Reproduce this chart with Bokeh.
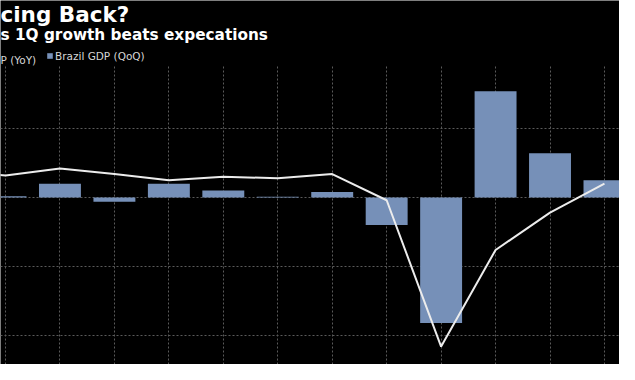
from bokeh.plotting import figure
from bokeh.models import Range1d, FixedTicker, Label, Legend, LegendItem, ColumnDataSource
from bokeh.embed import file_html
from bokeh.resources import INLINE

# ---------------- data ----------------
quarters = ["1Q 2018", "2Q 2018", "3Q 2018", "4Q 2018", "1Q 2019", "2Q 2019", "3Q 2019",
            "4Q 2019", "1Q 2020", "2Q 2020", "3Q 2020", "4Q 2020", "1Q 2021"]
gdp_yoy = [1.9, 1.6, 2.1, 1.7, 1.25, 1.5, 1.4, 1.7, -0.2, -10.8, -3.8, -1.1, 1.0]
bar_quarters = quarters[1:]
gdp_qoq = [0.1, 1.0, -0.3, 1.0, 0.5, 0.05, 0.4, -2.0, -9.1, 7.7, 3.2, 1.25]
y_ticks = [-10, -5, 0, 5]

title_text = "cing Back?"
subtitle_text = "s 1Q growth beats expecations"
yoy_label = "P (YoY)"
qoq_label = "Brazil GDP (QoQ)"

# ---------------- build ----------------
x_line = [quarters.index(q) for q in quarters]
x_bar = [quarters.index(q) for q in bar_quarters]

line_src = ColumnDataSource(dict(x=x_line, y=gdp_yoy, q=quarters))
bar_src = ColumnDataSource(dict(x=x_bar, top=gdp_qoq, q=bar_quarters))

Y_BOTTOM, Y_TOP, PLOT_TOP = -12.10, 14.275, 9.565

p = figure(width=619, height=364, output_backend="svg", toolbar_location=None,
           x_range=Range1d(0.908, 12.276), y_range=Range1d(Y_BOTTOM, Y_TOP),
           min_border=0)

p.background_fill_color = "#000000"
p.border_fill_color = "#000000"
p.outline_line_color = None
p.xaxis.visible = False
p.yaxis.visible = False

p.xgrid.ticker = FixedTicker(ticks=x_line)
p.ygrid.ticker = FixedTicker(ticks=y_ticks)
p.xgrid.cross_bounds = (Y_BOTTOM, PLOT_TOP)
for g in (p.xgrid, p.ygrid):
    g.grid_line_color = "#5a5a5a"
    g.grid_line_dash = "2 2"
    g.grid_line_width = 1

bars = p.vbar(x="x", top="top", bottom=0, width=0.77, source=bar_src,
              fill_color="#7690b8", line_color=None)
p.line(x="x", y="y", source=line_src, line_color="#ececec", line_width=2)

font = "DejaVu Sans"
p.add_layout(Label(x=0, y=350, x_units="screen", y_units="screen", text=title_text,
                   text_font=font, text_font_size="21.5px", text_font_style="bold",
                   text_color="#ffffff", text_baseline="alphabetic", text_align="left"))
p.add_layout(Label(x=0, y=329.5, x_units="screen", y_units="screen", text=subtitle_text,
                   text_font=font, text_font_size="15.3px", text_font_style="bold",
                   text_color="#ffffff", text_baseline="alphabetic", text_align="left"))
p.add_layout(Label(x=0, y=304.3, x_units="screen", y_units="screen", text=yoy_label,
                   text_font=font, text_font_size="10.5px",
                   text_color="#d6d6d6", text_baseline="alphabetic", text_align="left"))

legend = Legend(items=[LegendItem(label=qoq_label, renderers=[bars])],
                location=(46, 302.5), orientation="horizontal",
                padding=0, margin=0, spacing=0,
                glyph_width=7, glyph_height=7, label_standoff=2, label_height=12,
                label_text_font=font, label_text_font_size="10.5px",
                label_text_color="#d6d6d6",
                background_fill_alpha=0, border_line_alpha=0)
p.add_layout(legend)

open("out.html", "w").write(file_html(p, INLINE))
